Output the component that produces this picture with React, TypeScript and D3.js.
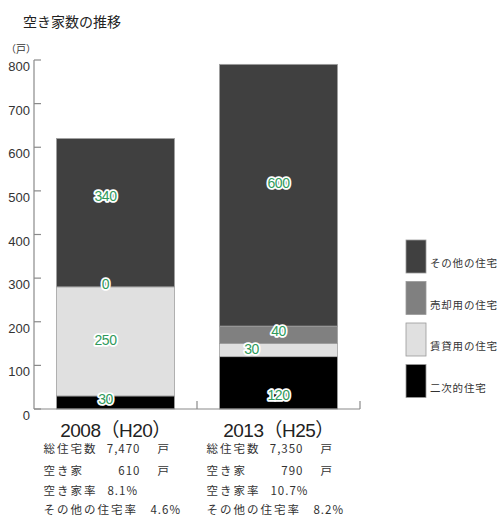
import React from "react";
import * as d3 from "d3";

// Vacant housing units by type, 2008 and 2013
const years = ["2008", "2013"];
const yearLabels = ["2008（H20）", "2013（H25）"];
const seriesNames = ["二次的住宅", "賃貸用の住宅", "売却用の住宅", "その他の住宅"];
const seriesColors = ["#000000", "#e0e0e0", "#808080", "#404040"];
const secondaryHomes = [30, 120];
const rentalHomes = [250, 30];
const forSaleHomes = [0, 40];
const otherHomes = [340, 600];
const yTicks = [0, 100, 200, 300, 400, 500, 600, 700, 800];

const totalHousing = ["7,470", "7,350"];
const vacantHomes = ["610", "790"];
const vacancyRate = ["8.1%", "10.7%"];
const otherRate = ["4.6%", "8.2%"];

// label nudges (px) for each [year][series]
const labelDx = [[-10, -10, -10, -10], [0, -27, 0, 0]];
const labelDy = [[-3, -1, -3, -17], [12, -1, -4, -12]];

const W = 502;
const H = 519;
const FONT = "'Noto Sans CJK JP', 'Noto Sans', sans-serif";
const NUM_FONT = "'Liberation Sans', Arial, sans-serif";
const CAT_FONT = "'Liberation Sans', 'Noto Sans CJK JP', sans-serif";

export default function App() {
  const series = [secondaryHomes, rentalHomes, forSaleHomes, otherHomes];
  const rows = years.map((y, i) => {
    const r: any = { year: y };
    seriesNames.forEach((n, k) => (r[n] = series[k][i]));
    return r;
  });
  const stacked = d3.stack().keys(seriesNames)(rows);

  const x = d3
    .scaleBand()
    .domain(years)
    .range([34, 360])
    .paddingInner(0.276)
    .paddingOuter(0.138);
  const y = d3.scaleLinear().domain([0, 800]).range([409, 60]);
  const step = x.step();
  const bw = x.bandwidth();
  const axisColor = "#8a8a8a";

  return (
    <svg
      width={W}
      height={H}
      style={{ position: "absolute", left: 0, top: 0, background: "#fff" }}
    >
      <text x={23} y={27} fontFamily={FONT} fontSize={14} fill="#222">
        空き家数の推移
      </text>
      <text x={6} y={53} fontFamily={FONT} fontSize={10} fill="#333">
        （戸）
      </text>

      {/* bars */}
      {stacked.map((s, k) =>
        s.map((d, i) => (
          <rect
            key={`${k}-${i}`}
            x={x(years[i])!}
            y={y(d[1])}
            width={bw}
            height={y(d[0]) - y(d[1])}
            fill={seriesColors[k]}
            stroke="#a0a0a0"
            strokeWidth={0.8}
          />
        ))
      )}

      {/* y axis */}
      <line x1={34} x2={34} y1={y(800)} y2={y(0)} stroke={axisColor} strokeWidth={1.2} />
      {yTicks.map((t) => (
        <g key={t}>
          <line x1={34} x2={41} y1={y(t)} y2={y(t)} stroke={axisColor} strokeWidth={1.2} />
          <text
            x={30}
            y={y(t) + 11}
            textAnchor="end"
            fontFamily={NUM_FONT}
            fontSize={13}
            fill="#333"
          >
            {t}
          </text>
        </g>
      ))}

      {/* x axis */}
      <line x1={34} x2={360} y1={y(0)} y2={y(0)} stroke={axisColor} strokeWidth={1.2} />
      {years.map((yr, i) => {
        const tx = 34 + (i + 1) * step;
        return (
          <line key={yr} x1={tx} x2={tx} y1={y(0)} y2={y(0) - 8} stroke={axisColor} strokeWidth={1.2} />
        );
      })}

      {/* value labels */}
      {stacked.map((s, k) =>
        s.map((d, i) => (
          <text
            key={`l${k}-${i}`}
            x={x(years[i])! + bw / 2 + labelDx[i][k]}
            y={y((d[0] + d[1]) / 2) + 5 + labelDy[i][k]}
            textAnchor="middle"
            fontFamily={NUM_FONT}
            fontSize={14}
            fill="#2f9a5c"
            stroke="#ffffff"
            strokeWidth={3.5}
            strokeLinejoin="round"
            paintOrder="stroke"
            style={{ letterSpacing: "-0.5px" }}
          >
            {series[k][i]}
          </text>
        ))
      )}

      {/* category labels and summary */}
      {years.map((yr, i) => {
        const cx = x(yr)! + bw / 2;
        const lx = x(yr)! - 13;
        const vx = x(yr)! + 84;
        const rowY = [453, 475, 495, 514];
        return (
          <g key={`c${yr}`}>
            <text
              x={cx}
              y={437}
              textAnchor="middle"
              fontFamily={CAT_FONT}
              fontSize={19}
              fill="#222"
              style={{ letterSpacing: "-0.5px" }}
            >
              {yearLabels[i]}
            </text>
            <g fontFamily={FONT} fontSize={11.5} fill="#333">
              <text x={lx} y={rowY[0]} style={{ letterSpacing: "2px" }}>総住宅数</text>
              <text x={vx} y={rowY[0]} textAnchor="end" style={{ letterSpacing: "1px" }}>{totalHousing[i]}</text>
              <text x={vx + 17} y={rowY[0]}>戸</text>
              <text x={lx} y={rowY[1]} style={{ letterSpacing: "2px" }}>空き家</text>
              <text x={vx} y={rowY[1]} textAnchor="end" style={{ letterSpacing: "1px" }}>{vacantHomes[i]}</text>
              <text x={vx + 17} y={rowY[1]}>戸</text>
              <text x={lx} y={rowY[2]} style={{ letterSpacing: "2px" }}>空き家率</text>
              <text x={vx - 33} y={rowY[2]} style={{ letterSpacing: "1px" }}>{vacancyRate[i]}</text>
              <text x={lx} y={rowY[3]} style={{ letterSpacing: "2px" }}>その他の住宅率</text>
              <text x={vx + 10} y={rowY[3]} style={{ letterSpacing: "1px" }}>{otherRate[i]}</text>
            </g>
          </g>
        );
      })}

      {/* legend, top entry first */}
      {[3, 2, 1, 0].map((k, j) => {
        const ly = 240 + j * 41.5;
        return (
          <g key={`lg${k}`}>
            <rect x={406} y={ly} width={20} height={33} fill={seriesColors[k]} stroke="#999" strokeWidth={0.8} />
            <text
              x={430}
              y={ly + 27}
              fontFamily={FONT}
              fontSize={10.5}
              fill="#333"
              style={{ letterSpacing: "0.8px" }}
            >
              {seriesNames[k]}
            </text>
          </g>
        );
      })}
    </svg>
  );
}
